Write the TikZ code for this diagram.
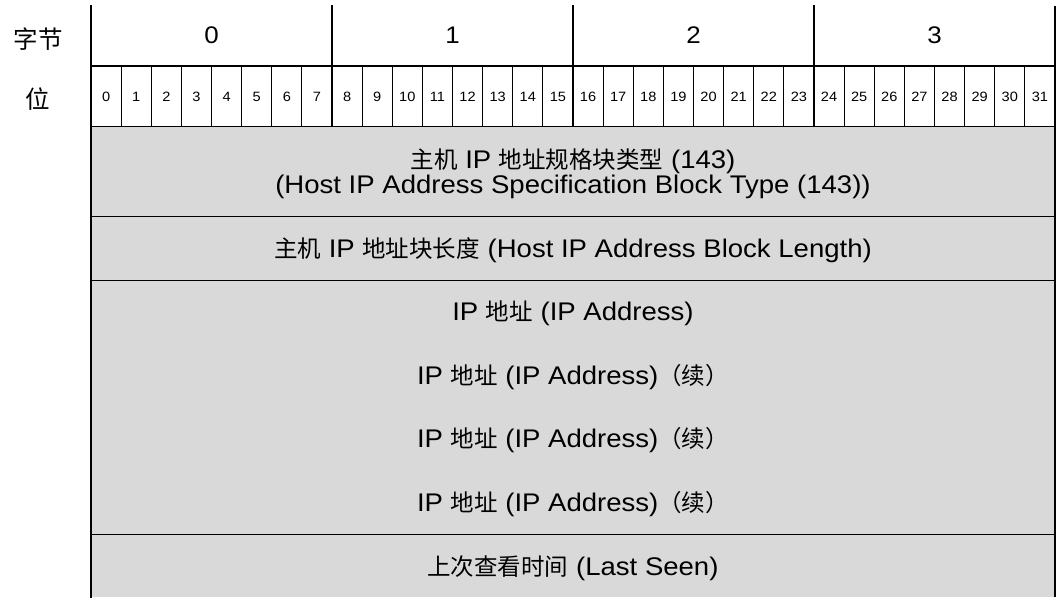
\documentclass[tikz,border=0pt]{standalone}
\usepackage{fontspec}
\setmainfont{Liberation Sans}[FakeStretch=1.08]
\newfontfamily\cjk{Noto Sans CJK SC}
\newcommand{\zh}[1]{{\cjk\fontsize{23.5}{28}\selectfont #1}}
\newcommand{\zhhead}[1]{{\cjk\fontsize{24.5}{28}\selectfont #1}}
\definecolor{fieldgray}{HTML}{D9D9D9}
\begin{document}
\begin{tikzpicture}[x=1pt,y=-1pt,
  thickline/.style={line width=1.6pt, line cap=rect},
  thinline/.style={line width=0.9pt},
  bigtxt/.style={font=\fontsize{24}{28}\selectfont, inner sep=0pt, anchor=base},
  bittxt/.style={font=\fontsize{13.5}{15}\selectfont, inner sep=0pt, anchor=base},
  rowtxt/.style={font=\fontsize{25.5}{28}\selectfont, inner sep=0pt, anchor=base}]
\useasboundingbox (0,0) rectangle (1056,597);
% field background
\fill[fieldgray] (91,126.5) rectangle (1055,597);
% header labels
\node[bigtxt] (hbyte) at (38,48) {\zhhead{字节}};
\node[bigtxt] (hbit) at (38,108) {\zhhead{位}};
% byte numbers
\foreach \b in {0,1,2,3}{
  \node[bigtxt] (byte\b) at ({91+120.5+241*\b},43) {\b};
}
% bit numbers
\foreach \i in {0,...,31}{
  \node[bittxt] (bit\i) at ({91+30.125*(\i+0.5)},101.5) {\i};
}
% bit separators
\foreach \i in {1,...,31}{
  \draw[thinline] ({91+30.125*\i},66) -- ({91+30.125*\i},126.5);
}
% byte separators
\foreach \b in {1,2,3}{
  \draw[thickline] ({91+241*\b},6) -- ({91+241*\b},126.5);
}
% horizontal lines
\draw[thickline] (91,66) -- (1055,66);
\draw[thickline] (91,126.5) -- (1055,126.5);
\draw[thickline] (91,216.5) -- (1055,216.5);
\draw[thinline] (91,280) -- (1055,280);
\draw[thinline] (91,534) -- (1055,534);
% borders
\draw[thickline] (91,6) -- (91,597);
\draw[line width=1.2pt] (1055,6) -- (1055,597);
% field texts
\node[rowtxt] (f1a) at (573,168) {\zh{主机} IP \zh{地址规格块类型} (143)};
\node[rowtxt] (f1b) at (573,193) {(Host IP Address Specification Block Type (143))};
\node[rowtxt] (f2) at (573,257) {\zh{主机} IP \zh{地址块长度} (Host IP Address Block Length)};
\node[rowtxt] (f3) at (573,320) {IP \zh{地址} (IP Address)};
\node[rowtxt] (f4) at (573,384) {IP \zh{地址} (IP Address)\zh{（续）}};
\node[rowtxt] (f5) at (573,447.5) {IP \zh{地址} (IP Address)\zh{（续）}};
\node[rowtxt] (f6) at (573,511) {IP \zh{地址} (IP Address)\zh{（续）}};
\node[rowtxt] (f7) at (573,575) {\zh{上次查看时间} (Last Seen)};
\end{tikzpicture}
\end{document}
